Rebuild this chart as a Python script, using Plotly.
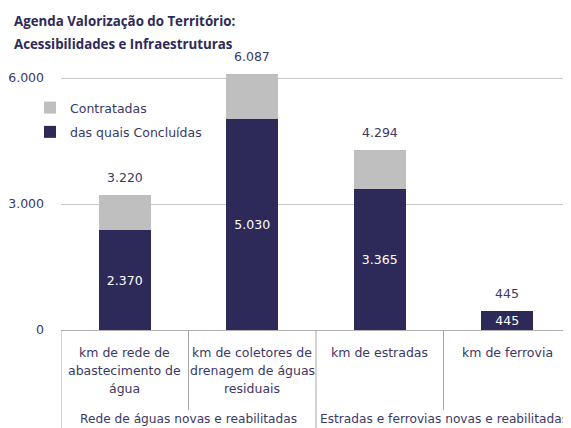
import plotly.graph_objects as go

# ---- data ----
categorias = [
    "km de rede de<br>abastecimento de<br>água",
    "km de coletores de<br>drenagem de águas<br>residuais",
    "km de estradas",
    "km de ferrovia",
]
grupos = ["Rede de águas novas e reabilitadas", "Estradas e ferrovias novas e reabilitadas"]
grupo_indices = [[0, 1], [2, 3]]
contratadas = [3220, 6087, 4294, 445]
concluidas = [2370, 5030, 3365, 445]
y_ticks = [0, 3000, 6000]
titulo = ["Agenda Valorização do Território:", "Acessibilidades e Infraestruturas"]

NAVY = "#2d2a5a"
GREY = "#bfbfbf"
TXT = "#3b3866"
FONT = "DejaVu Sans"
TFONT = "Open Sans"
FS = 12.5

W, H = 563, 420
ML, MR, MT, MB = 53, 0, 52, 98
PW = W - ML - MR
PH = H - MT - MB

x = list(range(len(categorias)))
restante = [c - d for c, d in zip(contratadas, concluidas)]


def fmt(v):
    return f"{v:,}".replace(",", ".")


fig = go.Figure()
fig.add_trace(go.Bar(
    x=x, y=concluidas, name="das quais Concluídas",
    marker=dict(color=NAVY, line=dict(width=0)),
    text=[fmt(v) for v in concluidas],
    textposition="inside", insidetextanchor="middle", constraintext="none",
    textfont=dict(color="white", size=FS, family=FONT),
    legendgroup="b", legendrank=2, hoverinfo="skip",
))
fig.add_trace(go.Bar(
    x=x, y=restante, name="Contratadas",
    marker=dict(color=GREY, line=dict(width=0)),
    legendgroup="a", legendrank=1, hoverinfo="skip",
))

annotations = []
# totals above bars
for xi, v in zip(x, contratadas):
    annotations.append(dict(
        x=xi, y=v, xref="x", yref="y", text=fmt(v),
        showarrow=False, yanchor="bottom", yshift=8,
        font=dict(size=FS, color=TXT, family=FONT),
    ))
# category labels
for xi, lab in zip(x, categorias):
    for k, line in enumerate(lab.split("<br>")):
        annotations.append(dict(
            x=xi, y=0, xref="x", yref="paper", text=line, showarrow=False,
            yanchor="middle", yshift=-22 - 18 * k,
            font=dict(size=FS, color=TXT, family=FONT),
        ))
# group labels
for g, idx in zip(grupos, grupo_indices):
    annotations.append(dict(
        x=sum(idx) / len(idx), y=0, xref="x", yref="paper", text=g, showarrow=False,
        yanchor="middle", yshift=-89,
        font=dict(size=12.2, color=TXT, family=FONT),
    ))
# title (two lines)
for k, t in enumerate(titulo):
    annotations.append(dict(
        x=(4 - ML) / PW, y=1, xref="paper", yref="paper", text=f"<b>{t}</b>",
        showarrow=False, xanchor="left", yanchor="middle",
        yshift=MT - 13 - 23 * k,
        font=dict(size=13.3, color=NAVY, family=TFONT),
    ))

shapes = []
bounds = set()
for idx in grupo_indices:
    bounds.add(min(idx) - 0.5)
    bounds.add(max(idx) + 0.5)
for b in [i - 0.5 for i in range(len(categorias) + 1)]:
    outer = b in bounds
    shapes.append(dict(
        type="line", xref="x", yref="paper", ysizemode="pixel", yanchor=0,
        x0=b, x1=b, y0=0, y1=-MB if outer else -80,
        line=dict(color="#a6a6a6", width=1),
    ))

fig.update_layout(
    width=W, height=H,
    margin=dict(l=ML, r=MR, t=MT, b=MB, autoexpand=False),
    barmode="stack", bargap=0.59,
    separators=",.",
    plot_bgcolor="white", paper_bgcolor="white",
    font=dict(family=FONT, size=FS, color=TXT),
    showlegend=True,
    legend=dict(x=(22 - ML) / PW, y=1 - (85 - MT) / PH, xanchor="left", yanchor="top",
                font=dict(size=FS, color=TXT, family=FONT),
                tracegroupgap=5, itemwidth=30, bgcolor="rgba(0,0,0,0)"),
    annotations=annotations,
    shapes=shapes,
    xaxis=dict(range=[-0.5, len(categorias) - 0.5], showticklabels=False,
               showgrid=False, zeroline=False, showline=True, automargin=False,
               linecolor="#b0b0b0", linewidth=1, ticks=""),
    yaxis=dict(range=[0, 6000 * PH / 252], tickvals=y_ticks, tickformat=",d",
               showgrid=True, gridcolor="#c8c8c8", gridwidth=1, automargin=False,
               zeroline=False, showline=False, ticks="",
               ticklabelstandoff=16, tickfont=dict(size=FS, color=TXT, family=FONT)),
)

fig.write_html("out.html")
